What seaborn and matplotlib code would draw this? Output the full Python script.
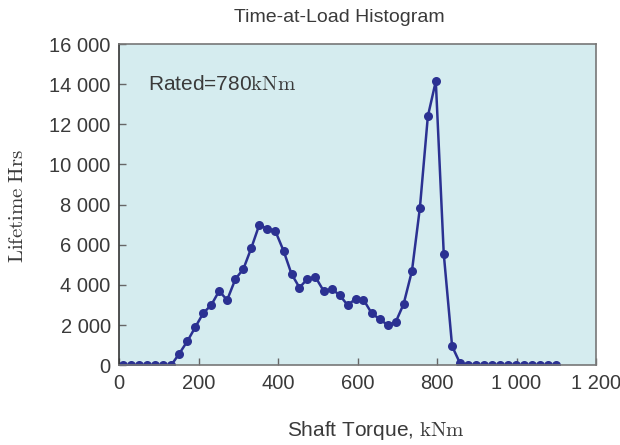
import seaborn as sns
import matplotlib.pyplot as plt
import matplotlib.ticker as mticker
import pandas as pd

# data (torque bin centre, kNm / lifetime hours)
torque = [10, 30, 51, 71, 91, 111, 131, 151, 172, 192, 212, 232, 252, 272,
          293, 313, 333, 353, 373, 393, 414, 434, 454, 474, 494, 515, 535,
          555, 575, 595, 615, 636, 656, 676, 696, 716, 737, 757, 777, 797,
          817, 838, 858, 878, 898, 918, 939, 959, 979, 999, 1020, 1040,
          1060, 1080, 1100]
hours = [0, 0, 0, 0, 0, 0, 0, 560, 1200, 1900, 2600, 3000, 3700, 3250,
         4300, 4800, 5850, 7000, 6800, 6700, 5700, 4550, 3870, 4300, 4400,
         3700, 3800, 3500, 3000, 3300, 3270, 2580, 2300, 2000, 2150, 3050,
         4700, 7850, 12400, 14150, 5550, 950, 100, 0, 0, 0, 0, 0, 0, 0, 0,
         0, 0, 0, 0]
x_ticks = [0, 200, 400, 600, 800, 1000, 1200]
y_ticks = [0, 2000, 4000, 6000, 8000, 10000, 12000, 14000, 16000]

df = pd.DataFrame({"torque": torque, "hours": hours})

sns.set_theme(style="ticks")
plt.rcParams["font.family"] = ["Liberation Sans", "DejaVu Sans"]
plt.rcParams["mathtext.fontset"] = "cm"

txt = "#3a3a3a"
fig = plt.figure(figsize=(6.2, 4.45), dpi=100)
ax = fig.add_axes([119 / 620, 1 - 365.3 / 445, (596 - 119) / 620, (365.3 - 44) / 445])
ax.set_facecolor("#d5ecef")

sns.lineplot(data=df, x="torque", y="hours", ax=ax, color="#2b3192",
             marker="o", markersize=6.5, markeredgewidth=0, linewidth=1.8)

ax.set_xlim(0, 1200)
ax.set_ylim(0, 16000)
ax.set_xticks(x_ticks)
ax.set_yticks(y_ticks)
fmt = mticker.FuncFormatter(lambda v, p: f"{int(v):,}".replace(",", " "))
ax.xaxis.set_major_formatter(fmt)
ax.yaxis.set_major_formatter(fmt)
ax.tick_params(direction="in", length=5, width=1, color="#666666",
               labelsize=14.5, labelcolor=txt, pad=6)
ax.set_xlabel("")
ax.set_ylabel("")

for side in ["top", "right", "bottom"]:
    ax.spines[side].set_color("#777777")
    ax.spines[side].set_linewidth(1.2)
ax.spines["left"].set_color("#333333")
ax.spines["left"].set_linewidth(1.2)

ax.text(0.06, 0.875, r"Rated=780$\mathrm{kNm}$", transform=ax.transAxes,
        fontsize=15, color=txt, va="center", ha="left")

fig.text(339 / 620, 1 - 17 / 445, "Time-at-Load Histogram", fontsize=14,
         color=txt, ha="center", va="center")
fig.text(376 / 620, 1 - 431 / 445, r"Shaft Torque, $\mathrm{kNm}$",
         fontsize=15, color=txt, ha="center", va="center")
fig.text(18 / 620, 1 - 206 / 445, r"$\mathrm{Lifetime\ Hrs}$", fontsize=15,
         color=txt, ha="center", va="center", rotation=90)

fig.savefig("out.png", dpi=100)
